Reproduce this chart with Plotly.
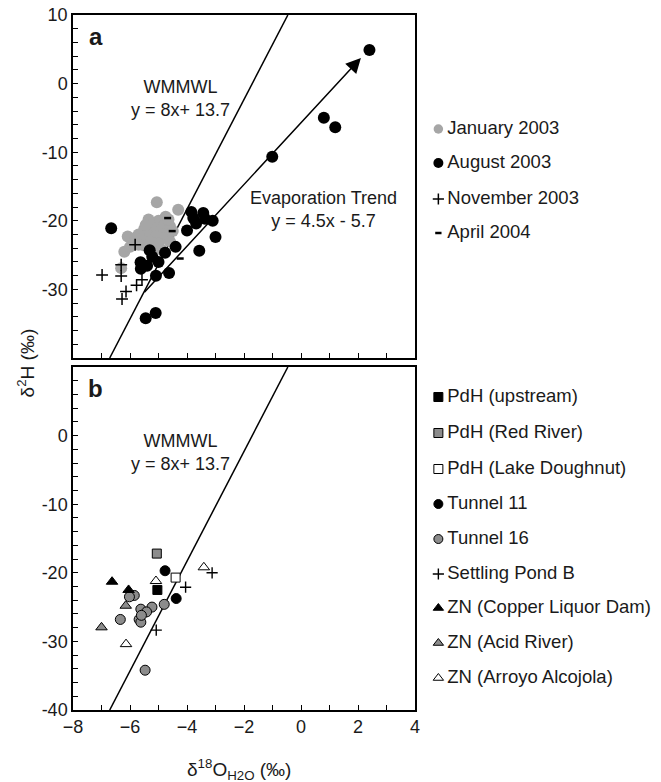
import plotly.graph_objects as go

# ---------------- data ----------------
# Panel a
jan_x = [-5.06, -4.31, -4.75, -6.08, -6.20, -6.31, -5.30, -5.00, -4.80, -4.60, -5.50, -5.20, -4.90,
         -4.70, -5.40, -5.10, -4.85, -5.60, -5.30, -5.00, -5.50, -4.60, -5.20, -4.90, -5.70, -5.35,
         -4.65, -5.80, -5.70, -6.00, -4.50, -5.45]
jan_y = [-17.3, -18.4, -19.4, -22.3, -24.5, -26.9, -20.3, -20.0, -20.6, -20.8, -21.2, -21.0, -21.3,
         -21.8, -22.0, -22.2, -22.5, -22.8, -23.0, -23.3, -23.6, -23.0, -24.0, -24.2, -22.0, -19.8,
         -19.8, -22.5, -23.5, -23.8, -21.5, -20.6]

aug_x = [2.40, 0.80, 1.20, -1.01, -6.66, -3.85, -3.43, -3.78, -3.68, -3.10, -3.37, -3.00, -4.00,
         -4.40, -3.57, -4.63, -5.09, -4.77, -5.31, -5.22, -5.63, -5.62, -5.40, -5.00, -5.45, -5.10]
aug_y = [4.9, -4.97, -6.37, -10.65, -21.1, -18.7, -18.85, -19.6, -20.4, -20.0, -19.7, -22.35, -21.4,
         -23.8, -24.35, -27.6, -28.0, -24.65, -24.3, -25.25, -26.05, -27.0, -26.55, -26.0, -34.2, -33.45]

nov_x = [-6.98, -6.31, -6.31, -5.82, -6.14, -6.28, -5.77, -5.58]
nov_y = [-27.9, -28.05, -26.4, -23.5, -30.3, -31.4, -29.4, -28.6]

apr_x = [-4.68, -4.52, -4.24]
apr_y = [-19.6, -21.5, -25.5]

# Panel b
pdh_up_x, pdh_up_y = [-5.04], [-22.5]
pdh_red_x, pdh_red_y = [-5.06], [-17.2]
pdh_lake_x, pdh_lake_y = [-4.40], [-20.7]
t11_x, t11_y = [-4.77, -4.38], [-19.7, -23.75]
t16_x = [-5.85, -6.02, -5.62, -5.23, -5.42, -4.80, -6.34, -5.68, -5.62, -5.60, -5.47]
t16_y = [-23.3, -23.5, -25.3, -25.0, -25.7, -24.6, -26.8, -26.8, -27.2, -26.2, -34.2]
spb_x, spb_y = [-3.12, -4.05, -5.08], [-20.0, -22.1, -28.35]
zn_cld_x, zn_cld_y = [-6.63, -6.05], [-21.3, -22.5]
zn_acid_x, zn_acid_y = [-6.15, -7.00], [-24.8, -27.95]
zn_arr_x, zn_arr_y = [-5.09, -3.41, -6.14], [-21.2, -19.2, -30.4]

# Lines
wmmwl_slope, wmmwl_int = 8.0, 13.7
evap_slope, evap_int = 4.5, -5.7
evap_end_x = 2.1

x_ticks = [-8, -6, -4, -2, 0, 2, 4]
ya_ticks = [10, 0, -10, -20, -30]
yb_ticks = [0, -10, -20, -30, -40]
y_range = [-40, 10]

legend_a = ["January 2003", "August 2003", "November 2003", "April 2004"]
legend_b = ["PdH (upstream)", "PdH (Red River)", "PdH (Lake Doughnut)", "Tunnel 11", "Tunnel 16",
            "Settling Pond B", "ZN (Copper Liquor Dam)", "ZN (Acid River)", "ZN (Arroyo Alcojola)"]

# ---------------- styles ----------------
FONT = "Liberation Sans, Arial, sans-serif"
LGREY = "#a6a6a6"
MGREY = "#8c8c8c"
TXT = "#1a1a1a"

sty_jan = dict(symbol="circle", color=LGREY, size=12, line=dict(width=0))
sty_aug = dict(symbol="circle", color="black", size=12, line=dict(width=0))
sty_nov = dict(symbol="cross-thin", color="black", size=8.5, line=dict(width=1.5, color="black"))
sty_apr = dict(symbol="line-ew", color="black", size=5, line=dict(width=2.5, color="black"))

def mk(color, symbol, size, lw=1):
    return dict(symbol=symbol, color=color, size=size, line=dict(width=lw, color="black"))

sty_b = [
    mk("black", "square", 9),
    mk(MGREY, "square", 9),
    mk("white", "square", 9),
    mk("black", "circle", 10),
    mk(MGREY, "circle", 10),
    dict(symbol="cross-thin", color="black", size=8, line=dict(width=1.4, color="black")),
    mk("black", "triangle-up", 10),
    mk(MGREY, "triangle-up", 10),
    mk("white", "triangle-up", 10),
]

fig = go.Figure()

# WMMWL lines in both panels
wm_x = [(y_range[0] - wmmwl_int) / wmmwl_slope, (y_range[1] - wmmwl_int) / wmmwl_slope]
wm_y = [wmmwl_slope * v + wmmwl_int for v in wm_x]
for xa, ya in [("x", "y"), ("x2", "y2")]:
    fig.add_trace(go.Scatter(x=wm_x, y=wm_y, mode="lines", line=dict(color="black", width=1.5),
                             xaxis=xa, yaxis=ya, showlegend=False, hoverinfo="skip"))

# Panel a points
fig.add_trace(go.Scatter(x=jan_x, y=jan_y, mode="markers", marker=sty_jan, xaxis="x", yaxis="y", showlegend=False))
fig.add_trace(go.Scatter(x=nov_x, y=nov_y, mode="markers", marker=sty_nov, xaxis="x", yaxis="y", showlegend=False))
fig.add_trace(go.Scatter(x=aug_x, y=aug_y, mode="markers", marker=sty_aug, xaxis="x", yaxis="y", showlegend=False))
fig.add_trace(go.Scatter(x=apr_x, y=apr_y, mode="markers", marker=sty_apr, xaxis="x", yaxis="y", showlegend=False))

# Panel b points
b_series = [(pdh_up_x, pdh_up_y), (pdh_red_x, pdh_red_y), (pdh_lake_x, pdh_lake_y), (t11_x, t11_y),
            (t16_x, t16_y), (spb_x, spb_y), (zn_cld_x, zn_cld_y), (zn_acid_x, zn_acid_y), (zn_arr_x, zn_arr_y)]
order = [4, 0, 1, 2, 3, 5, 6, 7, 8]
for i in order:
    xs, ys = b_series[i]
    fig.add_trace(go.Scatter(x=xs, y=ys, mode="markers", marker=sty_b[i], xaxis="x2", yaxis="y2",
                             showlegend=False, cliponaxis=False))

# Legend (drawn on a hidden axis whose units are page pixels)
leg_a_y = [129, 163, 199, 233]
leg_a_sty = [dict(sty_jan, size=9.5), dict(sty_aug, size=10), dict(sty_nov, size=8), dict(sty_apr, size=4.5)]
leg_b_sty = [dict(s) for s in sty_b]
for s in leg_b_sty:
    if s["symbol"] != "cross-thin":
        s["size"] = min(s["size"], 9)
leg_b_y = [397, 433, 469, 504, 539, 574, 608, 643, 678]
leg_mx, leg_tx = 441.5, 450.5
for labels, ys, stys in [(legend_a, leg_a_y, leg_a_sty), (legend_b, leg_b_y, leg_b_sty)]:
    for lab, yy, st in zip(labels, ys, stys):
        fig.add_trace(go.Scatter(x=[leg_mx], y=[yy], mode="markers", marker=st, xaxis="x3", yaxis="y3",
                                 showlegend=False, cliponaxis=False, hoverinfo="skip"))
        fig.add_trace(go.Scatter(x=[leg_tx], y=[yy], mode="text", text=[lab], textposition="middle right",
                                 textfont=dict(family=FONT, size=18.5, color=TXT), xaxis="x3", yaxis="y3",
                                 showlegend=False, cliponaxis=False, hoverinfo="skip"))

# ---------------- layout ----------------
W, H = 661, 782
ml, mt, mb = 73, 15, 72
pw, ph = W - ml, H - mt - mb
xd_end = (418 - ml) / pw
ya_dom = [(710 - 358) / ph, 1.0]
yb_dom = [0.0, (710 - 367) / ph]

def xax(show, anchor):
    return dict(domain=[0, xd_end], range=[-8, 4], anchor=anchor, showgrid=False, zeroline=False,
                showline=True, linecolor="black", linewidth=1.5, mirror=True,
                ticks="inside", ticklen=5, tickwidth=1, tickcolor="black",
                tickvals=x_ticks, showticklabels=show,
                tickfont=dict(family=FONT, size=18, color=TXT),
                minor=dict(dtick=1, ticks="inside", ticklen=5, tickcolor="black", showgrid=False))

def yax(dom, tv, anchor):
    return dict(domain=dom, range=y_range, anchor=anchor, showgrid=False, zeroline=False,
                showline=True, linecolor="black", linewidth=1.5, mirror=True,
                ticks="inside", ticklen=5, tickwidth=1, tickcolor="black",
                tickvals=tv, ticktext=[str(v) for v in tv],
                tickfont=dict(family=FONT, size=18, color=TXT),
                minor=dict(dtick=2, ticks="inside", ticklen=5, tickcolor="black", showgrid=False))

fig.update_layout(
    width=W, height=H, margin=dict(l=ml, r=0, t=mt, b=mb, pad=0),
    paper_bgcolor="white", plot_bgcolor="white",
    font=dict(family=FONT, color=TXT),
    xaxis=xax(False, "y"), yaxis=yax(ya_dom, ya_ticks, "x"),
    xaxis2=xax(True, "y2"), yaxis2=yax(yb_dom, yb_ticks, "x2"),
    xaxis3=dict(domain=[xd_end, 1], range=[418, 661], visible=False, anchor="y3"),
    yaxis3=dict(domain=[0, 1], range=[710, 15], visible=False, anchor="x3"),
    showlegend=False,
)

# Evaporation trend arrow
evap_x0 = (evap_int - wmmwl_int) / (wmmwl_slope - evap_slope)
fig.add_annotation(x=evap_end_x, y=evap_slope * evap_end_x + evap_int,
                   ax=evap_x0, ay=evap_slope * evap_x0 + evap_int,
                   xref="x", yref="y", axref="x", ayref="y", text="", showarrow=True,
                   arrowhead=2, arrowsize=2.0, arrowwidth=1.5, arrowcolor="black")

ann_font = dict(family=FONT, size=18, color=TXT)
fig.add_annotation(x=-4.22, y=-2.1, xref="x", yref="y", text="WMMWL<br>y = 8x+ 13.7",
                   showarrow=False, font=ann_font, align="center")
fig.add_annotation(x=0.78, y=-18.4, xref="x", yref="y", text="Evaporation Trend<br>y = 4.5x - 5.7",
                   showarrow=False, font=ann_font, align="center")
fig.add_annotation(x=-4.22, y=-2.45, xref="x2", yref="y2", text="WMMWL<br>y = 8x+ 13.7",
                   showarrow=False, font=ann_font, align="center")
fig.add_annotation(x=-7.2, y=6.9, xref="x", yref="y", text="<b>a</b>", showarrow=False,
                   font=dict(family=FONT, size=24, color=TXT))
fig.add_annotation(x=-7.2, y=6.9, xref="x2", yref="y2", text="<b>b</b>", showarrow=False,
                   font=dict(family=FONT, size=24, color=TXT))

# Axis titles
fig.add_annotation(x=(26 - ml) / pw, y=(710 - 363) / ph, xref="paper", yref="paper",
                   xanchor="center", yanchor="middle",
                   text="δ<sup>2</sup>H (‰)", textangle=-90, showarrow=False,
                   font=dict(family=FONT, size=19, color=TXT))
fig.add_annotation(x=(240 - ml) / pw, y=(710 - 770) / ph, xref="paper", yref="paper",
                   xanchor="center", yanchor="middle",
                   text="δ<sup>18</sup>O<sub>H2O</sub> (‰)", showarrow=False,
                   font=dict(family=FONT, size=19, color=TXT))

fig.write_html("out.html")
